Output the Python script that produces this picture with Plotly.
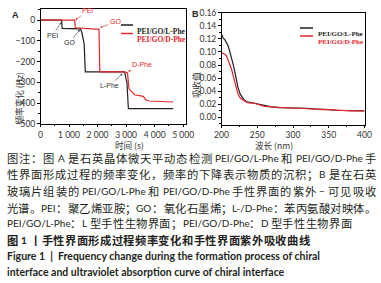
import plotly.graph_objects as go

W, H = 381, 283

# ---------------- Panel A data (QCM-D frequency change) ----------------
time_L = [0, 740, 760, 1400, 1450, 1500, 1530, 1570, 2950, 3000, 3030, 3080, 4650]
freq_L = [0, 0, -40, -42, -60, -100, -115, -250, -250, -285, -300, -427, -427]
time_D = [0, 1200, 1220, 2050, 2080, 2950, 3050, 3080, 3100, 3200, 3300, 3600, 3700, 3800, 4650]
freq_D = [0, 0, -37, -45, -250, -250, -255, -300, -330, -345, -360, -368, -385, -390, -395]
a_xticks = [0, 1000, 2000, 3000, 4000, 5000]
a_xticktext = ["0", "1 000", "2 000", "3 000", "4 000", "5 000"]

# ---------------- Panel B data (UV absorption) ----------------
wl = [200, 202, 205, 207, 209, 211, 214, 217, 219, 221, 223, 226, 229, 232, 236, 240, 245,
      250, 260, 270, 280, 290, 300, 310, 320, 330, 340, 350, 360, 370, 380, 390, 400]
abs_L = [0.127, 0.122, 0.118, 0.114, 0.110, 0.103, 0.092, 0.078, 0.068, 0.056, 0.046, 0.036,
         0.030, 0.026, 0.024, 0.023, 0.022, 0.021, 0.018, 0.016, 0.015, 0.015, 0.014, 0.014,
         0.014, 0.013, 0.013, 0.012, 0.011, 0.011, 0.010, 0.010, 0.010]
abs_D = [0.099, 0.098, 0.096, 0.094, 0.089, 0.083, 0.074, 0.061, 0.052, 0.043, 0.036, 0.030,
         0.027, 0.025, 0.023, 0.022, 0.022, 0.020, 0.017, 0.016, 0.015, 0.014, 0.014, 0.014,
         0.013, 0.013, 0.012, 0.012, 0.011, 0.011, 0.010, 0.010, 0.010]

series_names = ["PEI/GO/L-Phe", "PEI/GO/D-Phe"]
BLACK = "#231f20"
RED = "#e5262d"

# caption: (text, centre y px, right edge px, bold)
caption_cjk = [
    ("图注：图 A 是石英晶体微天平动态检测 PEI/GO/L-Phe 和 PEI/GO/D-Phe 手", 157.5, 376, False),
    ("性界面形成过程的频率变化，频率的下降表示物质的沉积；B 是在石英", 174.0, 376, False),
    ("玻璃片组装的 PEI/GO/L-Phe 和 PEI/GO/D-Phe 手性界面的紫外 − 可见吸收", 190.8, 376, False),
    ("光谱。PEI：聚乙烯亚胺；GO：氧化石墨烯；L-/D-Phe：苯丙氨酸对映体。", 207.5, 376, False),
    ("PEI/GO/L-Phe：L 型手性生物界面；PEI/GO/D-Phe：D 型手性生物界面", 223.5, 352, False),
    ("图 1 丨手性界面形成过程频率变化和手性界面紫外吸收曲线", 239.5, 310, True),
]
caption_en = [
    ("Figure 1  |  Frequency change during the formation process of chiral", 255.5),
    ("interface and ultraviolet absorption curve of chiral interface", 271.5),
]


def px_x(p):
    return p / W


def px_y(p):
    return 1 - p / H


fig = go.Figure()
fig.add_trace(go.Scatter(x=time_L, y=freq_L, mode="lines", line=dict(color=BLACK, width=1.2),
                         xaxis="x", yaxis="y", showlegend=False))
fig.add_trace(go.Scatter(x=time_D, y=freq_D, mode="lines", line=dict(color=RED, width=1.2),
                         xaxis="x", yaxis="y", showlegend=False))
fig.add_trace(go.Scatter(x=wl, y=abs_L, mode="lines", line=dict(color=BLACK, width=1.2),
                         xaxis="x2", yaxis="y2", showlegend=False))
fig.add_trace(go.Scatter(x=wl, y=abs_D, mode="lines", line=dict(color=RED, width=1.2),
                         xaxis="x2", yaxis="y2", showlegend=False))

tickfont = dict(family="Lato, Liberation Sans", size=8.5, color="#333")
common = dict(showline=True, linecolor="black", linewidth=1, mirror=True, showgrid=False,
              zeroline=False, ticks="outside", ticklen=2.5, tickwidth=0.8, tickcolor="black",
              tickfont=tickfont, automargin=False)

fig.update_layout(
    template="none",
    width=W, height=H,
    margin=dict(l=0, r=0, t=0, b=0, pad=0),
    paper_bgcolor="white", plot_bgcolor="white",
    showlegend=False,
    xaxis=dict(domain=[px_x(40.5), px_x(186)], range=[0, 5100], tickvals=a_xticks,
               ticktext=a_xticktext, anchor="y",
               minor=dict(dtick=500, ticks="outside", ticklen=1.5, tickcolor="black"), **common),
    yaxis=dict(domain=[px_y(123.8), px_y(9.3)], range=[-500, 52], dtick=100, anchor="x",
               minor=dict(dtick=50, ticks="outside", ticklen=1.5, tickcolor="black"), **common),
    xaxis2=dict(domain=[px_x(221.5), px_x(364.5)], range=[200, 400], dtick=50, anchor="y2",
                minor=dict(dtick=25, ticks="outside", ticklen=1.5, tickcolor="black"), **common),
    yaxis2=dict(domain=[px_y(124.5), px_y(12.7)], range=[-0.0108, 0.16], dtick=0.02,
                tickformat=".2f", anchor="x2",
                minor=dict(dtick=0.01, ticks="outside", ticklen=1.5, tickcolor="black"), **common),
)

ann = []
# panel letters
ann.append(dict(text="<b>A</b>", x=px_x(10), y=px_y(8), xref="paper", yref="paper",
                showarrow=False, font=dict(family="Liberation Sans", size=9, color="#222")))
ann.append(dict(text="<b>B</b>", x=px_x(195), y=px_y(7), xref="paper", yref="paper",
                showarrow=False, font=dict(family="Liberation Sans", size=9, color="#222")))
# axis titles
tfont = dict(family="Noto Sans CJK SC, Lato", size=8.6, color="#333")
ann.append(dict(text="频率变化 (Hz)", x=px_x(10), y=px_y(70), xref="paper", yref="paper",
                textangle=-90, showarrow=False, font=tfont))
ann.append(dict(text="时间 (s)", x=px_x(115), y=px_y(144.5), xref="paper", yref="paper",
                showarrow=False, borderpad=0, borderwidth=0, font=tfont))
ann.append(dict(text="吸收值", x=px_x(196), y=px_y(70), xref="paper", yref="paper",
                textangle=-90, showarrow=False, font=tfont))
ann.append(dict(text="波长 (nm)", x=px_x(293), y=px_y(144.5), xref="paper", yref="paper",
                showarrow=False, borderpad=0, borderwidth=0, font=tfont))

# step labels in panel A
lfont_k = dict(family="Liberation Sans", size=7, color="#333")
lfont_r = dict(family="Liberation Sans", size=7, color=RED)
arrow = dict(showarrow=True, arrowhead=2, arrowsize=0.7, arrowwidth=0.6, xref="x", yref="y",
             standoff=1)
ann.append(dict(text="PEI", x=760, y=-6, ax=-10, ay=14, font=lfont_k, arrowcolor="#333", **arrow))
ann.append(dict(text="PEI", x=1200, y=-2, ax=13, ay=-10, font=lfont_r, arrowcolor=RED, **arrow))
ann.append(dict(text="GO", x=1400, y=-42, ax=-11, ay=14, font=lfont_k, arrowcolor="#333", **arrow))
ann.append(dict(text="GO", x=2060, y=-38, ax=16, ay=-6, font=lfont_r, arrowcolor=RED, **arrow))
ann.append(dict(text="L-Phe", x=2900, y=-255, ax=-14, ay=13, font=lfont_k, arrowcolor="#333", **arrow))
ann.append(dict(text="D-Phe", x=3040, y=-250, ax=15, ay=-7, font=lfont_r, arrowcolor=RED, **arrow))

# legends (text + swatch)
legfont = "Liberation Serif"
for i, (name, col) in enumerate(zip(series_names, [BLACK, RED])):
    ya = 25 + 8.5 * i
    ann.append(dict(text="<b>" + name + "</b>", x=px_x(135), y=px_y(ya), xref="paper",
                    yref="paper", xanchor="left", showarrow=False,
                    font=dict(family=legfont, size=7.5, color=col)))
    ann.append(dict(text="<b>" + name + "</b>", x=px_x(316), y=px_y(28 + 8 * i), xref="paper",
                    yref="paper", xanchor="left", showarrow=False,
                    font=dict(family=legfont, size=7, color=col)))

shapes = []
for i, col in enumerate([BLACK, RED]):
    ya = 25 + 8.5 * i
    shapes.append(dict(type="line", xref="paper", yref="paper", x0=px_x(121), x1=px_x(133),
                       y0=px_y(ya), y1=px_y(ya), line=dict(color=col, width=1.5)))
    yb = 28 + 8 * i
    shapes.append(dict(type="line", xref="paper", yref="paper", x0=px_x(300), x1=px_x(313),
                       y0=px_y(yb), y1=px_y(yb), line=dict(color=col, width=1.5)))

# ---------------- caption (justified, token by token) ----------------
CJK_FS = 11.3
LAT_FS = 10.0
LAT_W = {"A": .68, "B": .64, "D": .75, "E": .56, "G": .74, "I": .30, "L": .48, "O": .81,
         "P": .60, "h": .56, "e": .52, "/": .38, "-": .37, "−": .58, "1": .58}
SPACE_W = 0.24 * LAT_FS
CAP_COL = "#231f20"


def is_cjk(ch):
    o = ord(ch)
    return (0x2E80 <= o <= 0x9FFF) or (0xFF00 <= o <= 0xFFEF) or (0x3000 <= o <= 0x303F)


def tokenize(line):
    toks = []
    buf = ""
    buf_sp = False
    sp = False
    for ch in line:
        if ch == " ":
            if buf:
                toks.append((buf, False, buf_sp))
                buf = ""
            sp = True
        elif is_cjk(ch):
            if buf:
                toks.append((buf, False, buf_sp))
                buf = ""
            toks.append((ch, True, sp))
            sp = False
        else:
            if not buf:
                buf_sp = sp
                sp = False
            buf += ch
    if buf:
        toks.append((buf, False, buf_sp))
    return toks


def lat_width(s, bold):
    w = sum(LAT_W.get(c, 0.56) for c in s) * LAT_FS
    return w * (1.04 if bold else 1.0)


for line, yc, x1, bold in caption_cjk:
    x0 = 7.0
    toks = tokenize(line)
    widths = [CJK_FS if c else lat_width(t, bold) for t, c, s in toks]
    nat = sum(widths) + sum(SPACE_W for t, c, s in toks[1:] if s)
    extra = (x1 - x0 - nat) / max(len(toks) - 1, 1)
    x = x0
    for i, (t, c, s) in enumerate(toks):
        if i > 0:
            x += extra + (SPACE_W if s else 0)
        txt = "<b>" + t + "</b>" if bold else t
        fam = "Noto Sans CJK SC" if c else "Lato"
        ann.append(dict(text=txt, x=px_x(x), y=px_y(yc), xref="paper", yref="paper",
                        xanchor="left", yanchor="middle", showarrow=False,
                        borderpad=0, borderwidth=0,
                        font=dict(family=fam, size=CJK_FS if c else LAT_FS, color=CAP_COL)))
        x += widths[i]

for line, yc in caption_en:
    ann.append(dict(text="<b>" + line + "</b>", x=px_x(7), y=px_y(yc), xref="paper",
                    yref="paper", xanchor="left", yanchor="middle", showarrow=False,
                    borderpad=0, borderwidth=0,
                    font=dict(family="Lato", size=10.5, color=CAP_COL)))

fig.update_layout(annotations=ann, shapes=shapes)
fig.write_html("out.html", config={"displayModeBar": False},
               post_script="document.body.style.margin='0';")
